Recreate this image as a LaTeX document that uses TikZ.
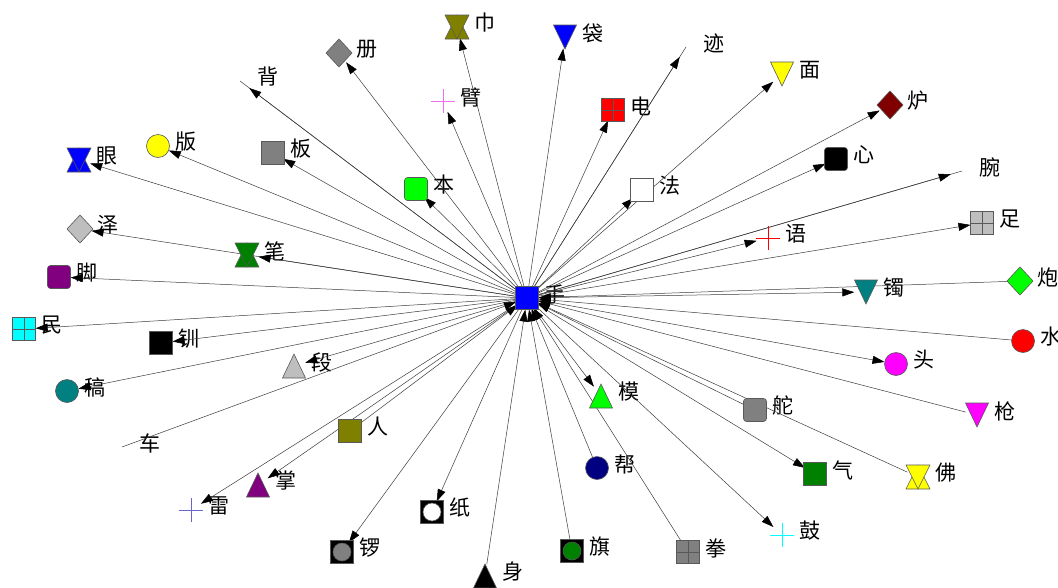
\documentclass[tikz,border=0pt]{standalone}
\usepackage{fontspec}
\newfontfamily\cjk{Noto Sans CJK SC}
\usetikzlibrary{arrows.meta}
\definecolor{cBlue}{RGB}{0,0,255}
\definecolor{cOlive}{RGB}{128,128,0}
\definecolor{cViolet}{RGB}{240,110,240}
\definecolor{cRed}{RGB}{255,0,0}
\definecolor{cGray}{RGB}{128,128,128}
\definecolor{cYellow}{RGB}{255,255,0}
\definecolor{cLime}{RGB}{0,255,0}
\definecolor{cMaroon}{RGB}{128,0,0}
\definecolor{cSilver}{RGB}{190,190,190}
\definecolor{cTeal}{RGB}{0,128,128}
\definecolor{cFuchsia}{RGB}{255,0,255}
\definecolor{cGreen}{RGB}{0,128,0}
\definecolor{cAqua}{RGB}{0,255,255}
\definecolor{cNavy}{RGB}{0,0,128}
\definecolor{cPurple}{RGB}{128,0,128}
\definecolor{cSlate}{RGB}{106,100,205}
\definecolor{cEdge}{RGB}{60,60,60}
\tikzset{
  hub/.style={circle,minimum size=23pt,inner sep=0pt,draw=none},
  lab/.style={anchor=west,inner sep=0pt,font=\cjk\fontsize{21}{21}\selectfont},
  bd/.style={draw=black!65,line width=0.6pt},
  edge/.style={draw=cEdge,line width=0.5pt},
  arr/.style={edge,-{Triangle[length=12pt,width=8pt,color=black]}},
  pics/sq/.style={code={\draw[bd,fill=#1] (-11.5,-11.5) rectangle (11.5,11.5);}},
  pics/rsq/.style={code={\draw[bd,fill=#1,rounded corners=3pt] (-11.5,-11.5) rectangle (11.5,11.5);}},
  pics/circ/.style={code={\draw[bd,fill=#1] (0,0) circle (11.5);}},
  pics/dia/.style={code={\draw[bd,fill=#1] (-13,0)--(0,-14)--(13,0)--(0,14)--cycle;}},
  pics/tdown/.style={code={\draw[bd,fill=#1] (-11.5,-12)--(11.5,-12)--(0,12)--cycle;}},
  pics/tup/.style={code={\draw[bd,fill=#1] (-11.5,12)--(11.5,12)--(0,-12)--cycle;}},
  pics/hg/.style={code={\draw[bd,fill=#1] (-12,12)--(12,12)--(0,-12)--cycle;
                        \draw[bd,fill=#1] (-12,-12)--(12,-12)--(0,12)--cycle;}},
  pics/grid/.style={code={\draw[bd,fill=#1] (-11.5,-11.5) rectangle (11.5,11.5);
                          \draw[bd] (0,-11.5)--(0,11.5) (-11.5,0)--(11.5,0);}},
  pics/crs/.style={code={\draw[draw=#1,line width=1pt] (-12,0)--(12,0) (0,-12)--(0,12);}},
  pics/sqc/.style={code={\draw[bd,fill=black] (-11.5,-11.5) rectangle (11.5,11.5);
                         \draw[bd,fill=#1] (0,0) circle (9);}},
}
\newcommand\mkv[4]{\node[hub] (#1) at (#2,#3) {};\node[lab] (#1-l) at (#2+17,#3-4) {#4};}
\begin{document}
\begin{tikzpicture}[x=1pt,y=-1pt]
\useasboundingbox[fill=white] (0,0) rectangle (1058,587);
% nodes (anchors) and labels
\mkv{c}{527}{298}{手}
\mkv{jin}{457}{27}{巾}
\mkv{dai}{565}{37}{袋}
\mkv{ji}{686}{47}{迹}
\mkv{bi}{443}{101}{臂}
\mkv{dian}{613}{110}{电}
\mkv{ce}{339}{53}{册}
\mkv{bei}{240}{81}{背}
\mkv{yan}{79}{160}{眼}
\mkv{ban}{158}{146}{版}
\mkv{banb}{273}{153}{板}
\mkv{ben}{416}{189}{本}
\mkv{fa}{642}{190}{法}
\mkv{mian}{782}{74}{面}
\mkv{lu}{890}{105}{炉}
\mkv{xin}{836}{159}{心}
\mkv{wan}{962}{171}{腕}
\mkv{yu}{768}{238}{语}
\mkv{zu}{982}{223}{足}
\mkv{pao}{1020}{281}{炮}
\mkv{zhuo}{866}{292}{镯}
\mkv{shui}{1023}{341}{水}
\mkv{tou}{896}{364}{头}
\mkv{duo}{755}{410}{舵}
\mkv{qiang}{977}{415}{枪}
\mkv{qi}{815}{474}{气}
\mkv{fo}{918}{477}{佛}
\mkv{gu}{782}{535}{鼓}
\mkv{quan}{688}{552}{拳}
\mkv{bang}{597}{468}{帮}
\mkv{qizi}{572}{551}{旗}
\mkv{shen}{485}{576}{身}
\mkv{zhi}{432}{512}{纸}
\mkv{luo}{342}{552}{锣}
\mkv{mo}{601}{396}{模}
\mkv{ren}{350}{431}{人}
\mkv{zhang}{258}{485}{掌}
\mkv{lei}{191}{510}{雷}
\mkv{che}{122}{447}{车}
\mkv{gao}{67}{391}{稿}
\mkv{duan}{294}{366}{段}
\mkv{chuan}{161}{343}{钏}
\mkv{min}{24}{329}{民}
\mkv{jiao}{59}{277}{脚}
\mkv{ze}{80}{229}{泽}
\mkv{bi2}{247}{255}{笔}
% edges: outward
\foreach \n in {jin,dai,bi,dian,ce,yan,ban,banb,ben,fa,mian,lu,xin,yu,zu,zhuo,tou,qi,gu,zhi,luo,mo,zhang,lei,gao,duan,chuan,min,jiao,ze,bi2}
  \draw[arr] (c) -- (\n);
% outward edges to unshaped nodes
\foreach \n in {ji,bei,wan}{
  \draw[edge] (c) -- (\n.center);
  \draw[arr] (c) -- (\n);}
% edges: inward
\foreach \n in {pao,shui,duo,qiang,fo,quan,bang,qizi,shen,ren}
  \draw[arr] (\n) -- (c);
\draw[arr] (che.center) -- (c);
% shapes
\pic at (c) {sq=cBlue};
\pic at (jin) {hg=cOlive};
\pic at (dai) {tdown=cBlue};
\pic at (bi) {crs=cViolet};
\pic at (dian) {grid=cRed};
\pic at (ce) {dia=cGray};
\pic at (yan) {hg=cBlue};
\pic at (ban) {circ=cYellow};
\pic at (banb) {sq=cGray};
\pic at (ben) {rsq=cLime};
\pic at (fa) {sq=white};
\pic at (mian) {tdown=cYellow};
\pic at (lu) {dia=cMaroon};
\pic at (xin) {rsq=black};
\pic at (yu) {crs=cRed};
\pic at (zu) {grid=cSilver};
\pic at (pao) {dia=cLime};
\pic at (zhuo) {tdown=cTeal};
\pic at (shui) {circ=cRed};
\pic at (tou) {circ=cFuchsia};
\pic at (duo) {rsq=cGray};
\pic at (qiang) {tdown=cFuchsia};
\pic at (qi) {sq=cGreen};
\pic at (fo) {hg=cYellow};
\pic at (gu) {crs=cAqua};
\pic at (quan) {grid=cGray};
\pic at (bang) {circ=cNavy};
\pic at (qizi) {sqc=cGreen};
\pic at (shen) {tup=black};
\pic at (zhi) {sqc=white};
\pic at (luo) {sqc=cGray};
\pic at (mo) {tup=cLime};
\pic at (ren) {sq=cOlive};
\pic at (zhang) {tup=cPurple};
\pic at (lei) {crs=cSlate};
\pic at (gao) {circ=cTeal};
\pic at (duan) {tup=cSilver};
\pic at (chuan) {sq=black};
\pic at (min) {grid=cAqua};
\pic at (jiao) {rsq=cPurple};
\pic at (ze) {dia=cSilver};
\pic at (bi2) {hg=cGreen};
\end{tikzpicture}
\end{document}
